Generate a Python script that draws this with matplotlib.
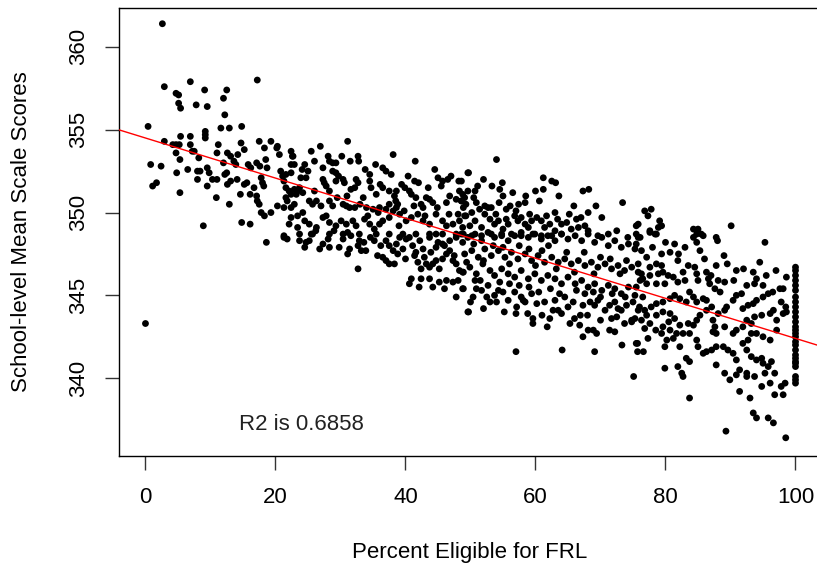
import matplotlib.pyplot as plt

# (percent eligible for FRL, school-level mean scale score)
frl_low = [
    (2.6, 361.4), (2.9, 357.6), (6.9, 357.9), (4.7, 357.2), (5.1, 357.1), (5.1, 356.6), (5.4, 356.3),
    (7.8, 356.5), (9.1, 357.4), (9.5, 356.4), (12.5, 357.4), (12.0, 356.9), (12.2, 355.9), (17.2, 358.0),
    (0.4, 355.2), (11.6, 355.1), (12.9, 355.1), (14.8, 355.2), (9.2, 354.9), (9.2, 354.7), (9.2, 354.5),
    (2.9, 354.3), (5.4, 354.6), (6.9, 354.6), (4.2, 354.1), (4.7, 354.1), (5.2, 354.1), (6.9, 354.1),
    (7.2, 353.7), (7.5, 353.7), (4.7, 353.6), (5.3, 353.2), (0.8, 352.9), (2.4, 352.8), (4.8, 352.4),
    (6.5, 352.6), (5.3, 351.2), (1.1, 351.6), (1.7, 351.8), (8.0, 352.5), (8.4, 352.5), (8.0, 352.0),
    (8.2, 353.3), (9.5, 352.7), (9.8, 352.4), (11.0, 353.6), (11.2, 354.1), (10.3, 352.0), (11.0, 352.0),
    (9.5, 351.6), (10.9, 350.9), (8.9, 349.2), (12.0, 353.0), (12.6, 353.6), (13.1, 353.4), (13.6, 353.1),
    (14.2, 353.5), (14.7, 354.2), (15.2, 353.8), (13.9, 352.9), (12.5, 352.4), (12.2, 352.3), (12.6, 351.7),
    (13.1, 351.9), (14.1, 352.0), (12.9, 350.5), (14.8, 349.4), (16.1, 349.3), (14.6, 351.1), (15.2, 351.7),
    (15.6, 351.8), (16.1, 351.1), (16.7, 351.5), (17.1, 351.0), (17.2, 350.7), (17.5, 350.5), (17.8, 350.0),
    (18.3, 349.8), (19.3, 350.0), (15.8, 352.9), (16.2, 352.7), (17.1, 353.0), (17.6, 352.8), (17.5, 354.3),
    (18.3, 353.9), (19.3, 354.3), (20.3, 354.0), (20.2, 353.9), (18.5, 353.2), (18.7, 352.7), (17.8, 352.1),
    (18.0, 351.8), (18.2, 351.6), (20.6, 353.5), (20.8, 352.5), (21.1, 352.2), (21.6, 352.3), (21.3, 351.9),
    (22.4, 353.7), (22.6, 353.4), (22.9, 352.9), (22.4, 352.4), (21.6, 351.5), (22.1, 351.3), (22.4, 351.1),
    (22.9, 351.4), (23.4, 351.3), (20.3, 350.4), (21.3, 350.3), (22.4, 350.3), (21.6, 350.9), (21.8, 350.7),
    (22.1, 349.3), (23.4, 349.1), (21.3, 348.6), (0.0, 343.3), (18.6, 348.2), (21.3, 348.5), (21.8, 348.4),
]

frl_mid = [
    (31.1, 354.3), (26.9, 354.0), (25.5, 353.7), (22.7, 353.4), (22.4, 352.9), (26.0, 353.1), (28.1, 353.4),
    (28.3, 353.1), (28.8, 353.0), (29.3, 353.0), (27.3, 352.7), (24.5, 352.9), (24.1, 352.6), (28.8, 352.5),
    (29.3, 352.4), (29.7, 352.2), (29.3, 351.9), (31.5, 353.1), (32.7, 353.4), (32.8, 353.1), (35.4, 352.9),
    (36.5, 352.7), (37.0, 352.5), (37.8, 352.3), (38.1, 353.5), (41.5, 353.1), (34.5, 352.3), (34.5, 351.9),
    (32.4, 352.0), (32.7, 351.8), (32.2, 351.5), (31.6, 351.4), (30.4, 352.0), (30.6, 351.8), (27.3, 352.0),
    (27.5, 351.8), (27.8, 351.6), (28.3, 351.3), (23.9, 352.1), (24.7, 352.1), (23.7, 351.5), (24.2, 351.2),
    (23.2, 351.1), (36.1, 351.7), (36.5, 351.5), (34.7, 351.5), (39.4, 351.7), (39.9, 351.5), (40.4, 352.2),
    (41.4, 351.9), (40.6, 351.3), (40.9, 351.1), (41.6, 350.9), (38.6, 351.3), (38.3, 351.0), (38.5, 350.7),
    (38.8, 350.5), (45.0, 352.1), (45.7, 351.9), (46.5, 352.0), (45.5, 351.6), (48.2, 351.9), (48.3, 351.3),
    (48.8, 351.1), (47.8, 350.8), (48.6, 350.7), (49.1, 350.9), (49.3, 350.5), (49.6, 352.4), (46.8, 351.0),
    (46.3, 350.6), (43.2, 350.9), (43.7, 350.8), (44.2, 350.6), (42.4, 350.5), (42.7, 350.3), (25.2, 350.7),
    (25.7, 350.5), (26.3, 350.7), (27.0, 350.4), (28.3, 350.7), (28.8, 350.4), (30.4, 350.5), (30.9, 350.4),
    (31.4, 350.3), (32.2, 350.3), (33.0, 350.5), (34.0, 350.3), (35.0, 350.2), (36.0, 350.3), (37.0, 350.2),
    (37.5, 350.5), (38.6, 350.3), (22.9, 350.5),
    (22.4, 349.7), (23.4, 349.8), (24.2, 350.0), (24.5, 349.5), (25.2, 349.3), (26.3, 349.1), (27.3, 349.7),
    (27.8, 349.8), (28.3, 349.4), (29.3, 349.2), (30.1, 349.5), (30.9, 349.3), (31.1, 348.8), (31.9, 349.5),
    (32.4, 349.2), (33.7, 349.6), (34.5, 349.3), (35.2, 349.0), (36.0, 349.3), (36.5, 349.5), (37.5, 349.7),
    (38.1, 350.1), (39.1, 349.9), (39.8, 350.1), (40.1, 349.5), (40.9, 349.7), (41.9, 349.9), (42.7, 349.5),
    (43.7, 349.3), (44.7, 349.9), (45.7, 349.5), (46.3, 349.2), (47.3, 349.3), (48.1, 349.9), (48.3, 349.5),
    (48.8, 349.1), (49.3, 349.8),
    (23.7, 348.7), (25.7, 348.7), (28.3, 348.7), (30.4, 348.7), (32.9, 348.7), (35.5, 348.7), (37.5, 348.7),
    (39.6, 348.7), (41.6, 348.7), (43.7, 348.7), (45.7, 348.7), (47.8, 348.7),
    (23.7, 348.3), (24.7, 348.2), (24.5, 347.9), (25.5, 348.7), (25.2, 348.3), (26.8, 347.8), (27.3, 348.1),
    (28.1, 348.4), (28.3, 347.9), (29.8, 347.9), (30.4, 348.4), (31.1, 347.5), (31.4, 347.8), (31.6, 348.6),
    (32.7, 348.0), (32.9, 348.3), (33.2, 347.7), (33.9, 347.7), (35.2, 348.3), (35.7, 347.4), (36.5, 347.3),
    (37.0, 347.1), (37.5, 346.9), (38.3, 346.9), (37.0, 348.3), (37.5, 348.0), (38.1, 347.7), (38.6, 348.1),
    (39.1, 348.5), (39.6, 347.8), (40.1, 348.4), (40.6, 348.5), (41.1, 348.0), (41.4, 347.4), (41.6, 347.6),
    (42.2, 348.3), (42.7, 347.8), (42.9, 347.3), (43.2, 346.9), (42.4, 346.6), (43.7, 346.7), (44.2, 346.9),
    (44.7, 347.1), (45.2, 346.6), (45.7, 347.2), (46.3, 347.5), (46.8, 347.7), (47.3, 347.1), (47.8, 346.9),
    (48.3, 346.5), (48.8, 346.4), (48.1, 345.9), (47.3, 345.8), (46.3, 345.9), (45.2, 345.8), (43.7, 346.0),
    (42.4, 346.0), (40.9, 346.0), (40.6, 345.7), (42.1, 345.5), (32.7, 346.6), (48.8, 345.4), (49.6, 344.0),
    (44.7, 347.9), (45.7, 348.1), (46.8, 348.3), (47.8, 348.5), (48.8, 348.2), (43.7, 348.5), (44.7, 348.7),
]

frl_upper = [
    (54.0, 353.2), (49.7, 352.4), (48.6, 351.9), (51.1, 351.6), (50.7, 351.3), (49.6, 351.3), (53.3, 351.6),
    (54.5, 351.4), (54.9, 351.8), (55.0, 351.0), (48.6, 350.7), (48.9, 350.3), (50.9, 350.6), (52.2, 350.4),
    (52.7, 350.3), (53.2, 350.3), (54.4, 350.6), (55.5, 350.2), (56.1, 350.4), (57.4, 350.5), (58.4, 350.6),
    (60.6, 350.7), (61.2, 352.1), (61.2, 351.4), (62.5, 351.9), (63.1, 351.8), (63.6, 351.0), (63.0, 350.0),
    (65.9, 350.4), (67.3, 351.3), (68.2, 351.4), (69.3, 350.4), (68.1, 350.0), (70.2, 349.7), (73.4, 350.6),
    (66.3, 349.6), (64.8, 349.4), (64.0, 349.3),
    (49.1, 349.8), (50.2, 350.0), (50.7, 349.5), (51.7, 349.1), (52.2, 349.9), (53.0, 349.6), (53.7, 349.3),
    (54.3, 349.5), (55.0, 349.0), (55.8, 349.3), (56.8, 349.8), (57.3, 349.5), (57.8, 349.7), (58.4, 349.3),
    (58.9, 349.1), (59.4, 349.5), (60.2, 349.7), (60.9, 349.5), (61.4, 349.1), (62.2, 349.3), (63.0, 348.9),
    (48.9, 348.7), (50.2, 348.6), (51.7, 348.6), (53.2, 348.7), (54.8, 348.6), (56.3, 348.7), (57.8, 348.6),
    (59.6, 348.7), (60.9, 348.6), (62.5, 348.6), (64.0, 348.7), (65.5, 349.0), (66.6, 349.1), (67.6, 349.2),
    (68.1, 348.9), (69.6, 348.6), (71.2, 348.7), (72.5, 348.9), (75.5, 349.2), (75.5, 348.7), (74.2, 348.5),
    (48.6, 348.7), (49.6, 348.5), (50.7, 348.7), (51.7, 348.3), (52.7, 348.8), (53.7, 348.5), (54.8, 348.7),
    (55.8, 348.3), (56.8, 348.6), (57.8, 348.8), (58.9, 348.5), (59.9, 348.7), (60.9, 348.4), (61.9, 348.6),
    (63.0, 348.3), (64.0, 348.7), (65.0, 348.4), (66.1, 348.6), (67.1, 348.3), (68.1, 348.7), (69.1, 348.2),
    (70.2, 348.5), (71.2, 348.0), (72.2, 348.3), (73.2, 347.9), (74.3, 348.1), (75.3, 347.8), (75.8, 348.5),
    (49.1, 347.5), (50.2, 347.7), (51.2, 347.3), (52.2, 347.8), (53.2, 347.4), (54.3, 347.7), (55.3, 347.3),
    (56.3, 347.6), (57.3, 347.2), (58.4, 347.5), (59.4, 347.1), (60.4, 347.4), (61.4, 347.0), (62.5, 347.3),
    (63.5, 347.0), (64.5, 347.2), (65.5, 346.9), (66.6, 347.1), (67.6, 346.8), (68.6, 347.0), (69.6, 346.7),
    (70.7, 346.9), (71.7, 346.6), (72.7, 346.8), (73.7, 346.5), (74.8, 346.7), (75.8, 346.4),
    (48.9, 346.4), (49.9, 346.7), (50.9, 346.3), (51.9, 346.9), (53.0, 346.5), (53.7, 346.2), (54.8, 346.6),
    (55.8, 346.3), (56.8, 346.1), (57.8, 346.5), (58.9, 346.0), (59.9, 346.3), (60.9, 345.9), (61.9, 346.2),
    (63.0, 346.0), (64.0, 345.7), (65.0, 346.1), (66.1, 345.7), (67.1, 345.9), (68.1, 345.5), (69.1, 345.7),
    (70.2, 345.3), (71.2, 345.6), (72.2, 345.4), (73.2, 345.1), (74.3, 345.5), (75.3, 345.0),
    (48.9, 345.4), (50.7, 345.9), (50.9, 345.4), (51.7, 345.3), (52.7, 345.6), (53.7, 345.0), (54.3, 345.3),
    (55.0, 345.2), (55.8, 344.7), (56.8, 345.2), (57.8, 344.9), (58.4, 344.6), (59.4, 345.1), (60.2, 344.5),
    (61.4, 344.6), (62.7, 344.1), (63.5, 344.1), (63.7, 345.1), (65.0, 344.3), (66.3, 345.3), (66.9, 343.8),
    (67.6, 345.1), (68.4, 344.6), (69.1, 344.4), (69.6, 344.7), (70.7, 344.1), (71.4, 344.4), (72.2, 344.6),
    (72.7, 344.2), (73.2, 344.1), (74.0, 344.4), (74.8, 343.5), (75.3, 343.6), (76.0, 344.3), (50.4, 344.9),
    (53.0, 344.6), (54.0, 344.6), (57.1, 344.3), (58.1, 344.7),
    (49.7, 344.0), (57.0, 343.9), (59.6, 343.3), (59.6, 343.6), (61.8, 343.1), (65.3, 343.3), (66.8, 343.2),
    (67.3, 342.5), (68.1, 342.9), (68.9, 342.9), (69.4, 342.7), (71.4, 342.9), (72.2, 342.8), (71.7, 343.6),
    (73.7, 343.3), (74.8, 343.4), (73.3, 342.0), (75.7, 342.1), (75.7, 341.6), (57.0, 341.6), (64.1, 341.7),
    (69.1, 341.6), (75.1, 340.1),
]

frl_high = [
    (76.8, 350.1), (77.8, 350.2), (75.8, 349.3), (77.3, 349.8), (79.1, 349.5), (79.4, 349.2), (78.9, 349.1),
    (77.6, 348.9), (78.4, 348.7), (84.3, 349.0), (85.0, 349.0), (84.8, 348.7), (85.5, 348.7), (90.1, 349.2),
    (87.8, 348.5),
    (77.6, 348.8), (78.6, 348.7), (76.1, 348.5), (75.5, 348.1), (76.3, 347.7), (77.1, 347.3), (79.4, 347.5),
    (80.7, 347.6), (81.4, 348.1), (83.0, 347.9), (84.3, 348.5), (84.8, 348.2), (85.8, 348.6), (85.3, 347.7),
    (88.0, 348.3), (95.3, 348.2), (81.9, 347.1), (78.6, 346.9), (79.4, 346.8), (77.6, 346.7), (75.8, 346.9),
    (76.3, 346.3), (77.6, 346.2), (78.9, 346.3), (79.6, 346.4), (80.4, 346.2), (81.2, 346.1), (82.7, 346.4),
    (83.0, 345.9), (81.9, 345.8), (79.9, 345.7), (78.6, 345.7), (77.1, 345.7), (76.1, 345.9), (75.5, 345.5),
    (84.5, 346.7), (84.8, 346.3), (85.0, 345.9), (86.3, 346.4), (86.6, 346.0), (86.8, 345.7), (87.8, 346.8),
    (88.1, 345.9), (87.6, 345.4), (88.4, 345.2), (89.1, 345.8), (89.5, 346.9), (90.9, 346.5), (93.5, 346.4),
    (94.0, 346.0), (93.7, 345.7), (95.0, 345.6), (95.5, 346.2), (95.8, 345.1), (95.0, 344.9), (94.0, 344.7),
    (93.5, 344.5), (92.7, 344.4), (91.9, 344.2), (90.9, 345.0), (91.7, 345.1), (90.4, 344.7), (89.4, 344.3),
    (89.1, 344.1), (88.1, 343.9), (87.1, 344.3), (86.3, 344.7), (85.8, 344.8), (84.8, 344.6), (84.3, 344.9),
    (83.7, 345.2), (83.2, 344.6), (82.2, 344.8), (81.4, 345.0), (80.7, 344.8), (79.6, 344.6), (78.6, 344.5),
    (77.8, 344.3), (76.8, 344.1), (75.8, 344.1), (77.1, 343.8), (76.3, 343.5), (78.6, 343.8), (79.6, 344.0),
    (80.7, 343.9), (81.4, 343.6), (82.2, 343.2), (83.5, 343.3), (84.3, 343.2), (84.8, 343.5), (85.3, 343.8),
    (86.3, 344.1), (87.3, 343.5), (87.6, 343.1), (87.3, 342.8), (87.8, 342.7), (89.1, 343.1), (90.4, 342.7),
    (90.9, 342.9), (91.9, 343.1), (92.5, 343.5), (93.2, 343.3), (93.7, 343.7), (94.8, 343.8), (96.1, 343.9),
    (96.6, 344.1), (97.1, 343.5), (98.1, 343.9), (98.6, 344.0), (97.8, 344.6), (97.6, 345.4), (97.1, 342.9),
    (96.1, 342.3), (95.0, 342.5), (94.0, 342.7), (93.2, 342.7), (92.7, 342.3), (91.9, 342.1), (92.5, 341.7),
    (93.2, 341.3), (94.0, 341.1), (94.8, 341.2), (95.0, 340.9), (95.8, 340.7), (96.3, 341.0), (96.8, 340.3),
    (96.1, 339.7), (95.3, 340.3), (94.8, 339.5), (93.7, 340.1), (92.5, 340.1), (91.4, 340.5), (90.9, 341.1),
    (90.4, 341.5), (89.6, 341.7), (88.9, 341.9), (87.8, 341.9), (87.1, 341.7), (86.3, 341.6), (85.8, 341.5),
    (85.0, 341.9), (84.8, 342.3), (83.7, 342.7), (82.7, 342.7), (81.7, 342.7), (80.7, 342.9), (79.6, 343.1),
    (79.4, 342.7), (77.6, 343.3), (77.3, 342.4), (75.5, 342.1), (76.6, 341.6), (79.9, 341.9), (80.2, 342.3),
    (81.2, 342.4), (82.2, 341.9), (83.2, 341.2), (83.7, 341.0), (87.8, 340.8), (89.1, 340.3), (89.9, 339.9),
    (90.9, 340.2), (92.5, 340.3), (91.4, 339.2), (93.0, 338.8), (93.5, 337.9), (94.0, 337.6), (95.8, 337.6),
    (96.6, 337.3), (96.8, 339.0), (98.1, 339.0), (97.8, 339.5), (98.4, 339.7), (81.9, 340.7), (82.5, 340.3),
    (82.7, 340.1), (79.9, 340.6), (83.7, 338.8), (89.3, 336.8), (98.5, 336.4), (98.1, 345.4), (98.6, 346.1),
    (98.5, 344.3),
]

# extra schools in the solid-black core of the cloud
frl_core = [
    (34.2, 349.8), (35.8, 350.0), (39.0, 349.2), (41.3, 350.4), (43.0, 349.8), (44.9, 350.3), (46.7, 349.9),
    (49.9, 349.2), (51.4, 350.2), (53.9, 349.9), (55.5, 349.6), (57.0, 350.1), (59.1, 349.9), (61.7, 349.8),
    (63.4, 349.6), (65.2, 349.9), (67.0, 349.7),
    (26.2, 348.9), (29.0, 348.9), (33.6, 348.2), (34.6, 348.5), (36.2, 348.0), (38.8, 347.5), (40.0, 347.2),
    (41.9, 347.0), (43.9, 347.6), (45.0, 348.2), (46.0, 348.0), (47.5, 347.4), (49.4, 347.0), (50.5, 348.1),
    (52.0, 347.1), (53.5, 348.0), (55.0, 347.9), (56.0, 346.9), (57.5, 348.0), (59.0, 347.8), (60.0, 346.8),
    (61.0, 347.7), (62.0, 348.0), (63.2, 346.6), (64.8, 347.6), (66.0, 346.4), (67.5, 347.6), (69.0, 346.3),
    (70.0, 347.3), (71.5, 347.2), (73.0, 346.3), (74.0, 347.1), (76.5, 346.0),
    (44.2, 345.5), (46.0, 345.4), (47.8, 344.9), (50.0, 344.6), (51.5, 345.9), (52.5, 344.9), (54.5, 345.8),
    (56.0, 345.7), (57.5, 345.6), (59.0, 345.5), (60.5, 345.2), (62.3, 345.4), (63.0, 344.7), (64.5, 344.9),
    (65.8, 344.6), (67.3, 344.4), (68.9, 345.2), (70.0, 344.9), (71.8, 345.1), (73.8, 344.9), (75.0, 344.6),
    (76.5, 344.9),
    (52.0, 344.2), (55.2, 344.0), (58.8, 343.9), (61.0, 343.8), (62.2, 343.6), (64.0, 343.9), (66.0, 343.6),
    (68.0, 343.8), (70.0, 343.5), (72.5, 343.7), (76.8, 343.0), (78.5, 342.9), (80.5, 343.4),
    (31.0, 351.0), (33.5, 350.9), (35.5, 351.1), (37.5, 351.3), (26.0, 351.3), (29.5, 350.9), (33.8, 352.6),
    (30.2, 353.4), (25.0, 352.5), (43.5, 351.5), (42.0, 351.8), (44.5, 352.6), (47.0, 352.2), (50.5, 350.9),
    (52.0, 352.0), (56.5, 351.2), (58.5, 351.0), (60.0, 351.3),
    (78.0, 347.9), (80.0, 348.2), (82.0, 347.5), (83.5, 346.8), (86.0, 347.2), (87.0, 346.2), (89.0, 347.4),
    (90.5, 345.9), (92.0, 346.6), (92.5, 345.6), (94.5, 347.0), (96.5, 345.2), (97.0, 346.5),
]

# schools at 100% FRL, stacked in one column
frl_full_scores = [346.7, 346.5, 346.2, 345.9, 345.6, 345.3, 344.9, 344.6, 344.3, 344.0, 343.7, 343.4,
                   343.1, 342.9, 342.7, 342.5, 342.2, 342.0, 341.7, 341.4, 341.2, 341.0, 340.9, 340.7,
                   340.1, 339.9, 339.7]

# fitted regression line
fit_intercept = 354.5
fit_slope = -0.121
r2_label = "R2 is 0.6858"

plt.rcParams['font.family'] = ['Liberation Sans', 'DejaVu Sans']

points = frl_low + frl_mid + frl_upper + frl_high + frl_core
xs = [p[0] for p in points] + [100.0] * len(frl_full_scores)
ys = [p[1] for p in points] + frl_full_scores

fig = plt.figure(figsize=(8.17, 5.69), dpi=100)
ax = fig.add_axes([118.5 / 817, 113 / 569, 703 / 817, 448 / 569])

ax.scatter(xs, ys, s=24, c='black', edgecolors='none', zorder=2)
ax.axline((0, fit_intercept), slope=fit_slope, color='red', lw=1, zorder=3)

ax.set_xlim(-4.15, 104)
ax.set_ylim(335.3, 362.35)
ax.set_xticks([0, 20, 40, 60, 80, 100])
ax.set_yticks([340, 345, 350, 355, 360])
ax.tick_params(length=10, width=1, labelsize=16, color='#333333')
ax.tick_params(axis='x', pad=12)
ax.tick_params(axis='y', pad=11)
for lab in ax.get_yticklabels():
    lab.set_rotation(90)
    lab.set_va('center')
for s in ax.spines.values():
    s.set_linewidth(1)

ax.text(24, 337.2, r2_label, ha='center', va='center', fontsize=16, color='#222222')

ax.set_xlabel('Percent Eligible for FRL', fontsize=16)
ax.set_ylabel('School-level Mean Scale Scores', fontsize=16)
ax.xaxis.set_label_coords(0.5, -0.2165)
ax.yaxis.set_label_coords(-0.138, 0.5)
ax.xaxis.label.set_va('center')
ax.yaxis.label.set_va('center')

fig.savefig('out.png', dpi=100)
